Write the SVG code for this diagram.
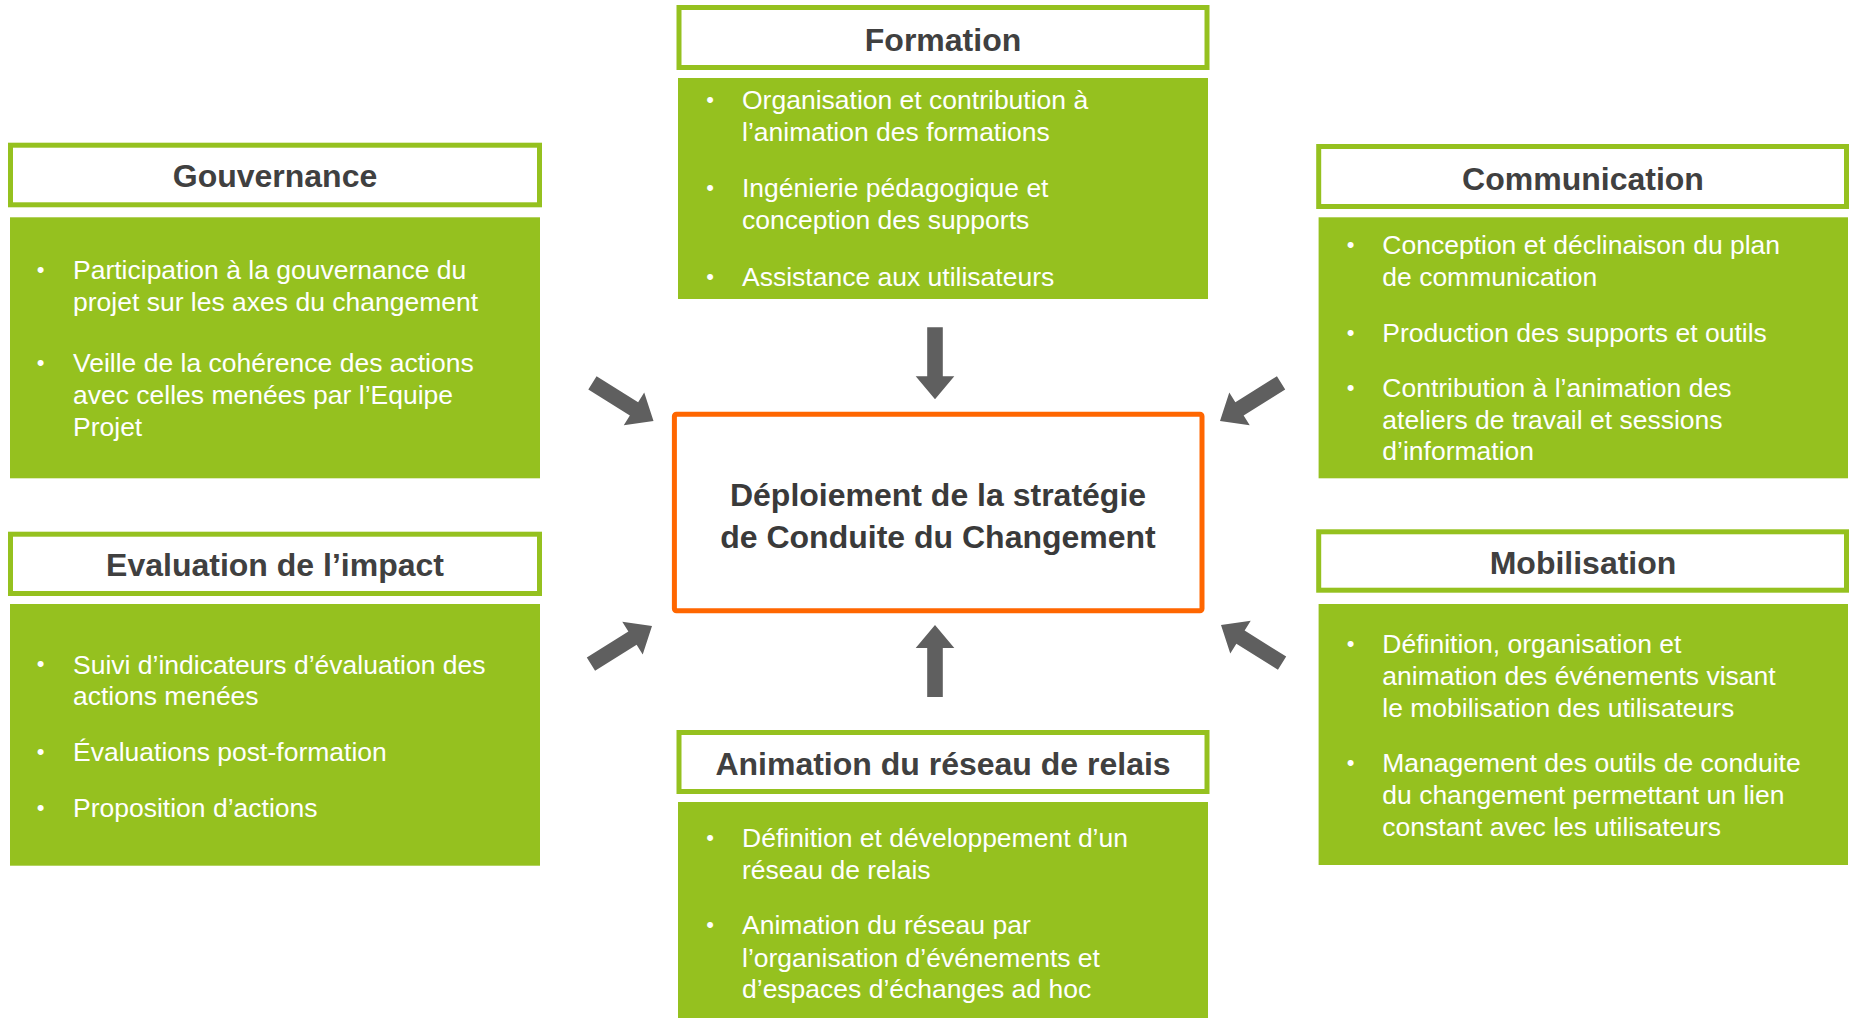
<svg xmlns="http://www.w3.org/2000/svg" width="1850" height="1018" viewBox="0 0 1850 1018">
<style>
.hdr{fill:#ffffff;stroke:#95c11f;stroke-width:5}
.body{fill:#95c11f}
.ttl{font-family:"Liberation Sans",Arial,sans-serif;font-weight:bold;font-size:32px;fill:#404040;text-anchor:middle}
.txt{font-family:"Liberation Sans",Arial,sans-serif;font-size:26.5px;fill:#ffffff}
.bul{font-family:"Liberation Sans",Arial,sans-serif;font-size:22px;fill:#ffffff;text-anchor:middle}
.ctr{fill:#ffffff;stroke:#ff6600;stroke-width:5}
.ctxt{font-family:"Liberation Sans",Arial,sans-serif;font-weight:bold;font-size:32px;fill:#3a3a3a;text-anchor:middle}
.arr{fill:#5f5f5f}
</style>
<defs>
<polygon id="arrow" points="-72,-7.8 -23,-7.8 -23,-19.3 0,0 -23,19.3 -23,7.8 -72,7.8"/>
</defs>
<rect width="1850" height="1018" fill="#ffffff"/>

<g id="formation">
<rect class="hdr" x="679" y="7.5" width="528" height="60"/>
<text class="ttl" x="943" y="50.5">Formation</text>
<rect class="body" x="678" y="78" width="530" height="221"/>
<text class="bul" x="710" y="106.5">•</text>
<text class="txt" x="742" y="108.8">Organisation et contribution à</text>
<text class="txt" x="742" y="140.5">l’animation des formations</text>
<text class="bul" x="710" y="195">•</text>
<text class="txt" x="742" y="197.2">Ingénierie pédagogique et</text>
<text class="txt" x="742" y="228.8">conception des supports</text>
<text class="bul" x="710" y="283.5">•</text>
<text class="txt" x="742" y="285.5">Assistance aux utilisateurs</text>
</g>

<g id="gouvernance">
<rect class="hdr" x="10.5" y="145.2" width="529" height="59.6"/>
<text class="ttl" x="275" y="187">Gouvernance</text>
<rect class="body" x="10" y="217.3" width="530" height="261"/>
<text class="bul" x="40.5" y="276.5">•</text>
<text class="txt" x="73" y="278.8">Participation à la gouvernance du</text>
<text class="txt" x="73" y="310.5">projet sur les axes du changement</text>
<text class="bul" x="40.5" y="370">•</text>
<text class="txt" x="73" y="372.2">Veille de la cohérence des actions</text>
<text class="txt" x="73" y="403.8">avec celles menées par l’Equipe</text>
<text class="txt" x="73" y="435.5">Projet</text>
</g>

<g id="communication">
<rect class="hdr" x="1318.7" y="146.5" width="527.8" height="60"/>
<text class="ttl" x="1583" y="189.5">Communication</text>
<rect class="body" x="1318.6" y="217.3" width="529.4" height="261"/>
<text class="bul" x="1350.6" y="252.3">•</text>
<text class="txt" x="1382.3" y="254.3">Conception et déclinaison du plan</text>
<text class="txt" x="1382.3" y="285.5">de communication</text>
<text class="bul" x="1350.6" y="340">•</text>
<text class="txt" x="1382.3" y="342">Production des supports et outils</text>
<text class="bul" x="1350.6" y="395">•</text>
<text class="txt" x="1382.3" y="397">Contribution à l’animation des</text>
<text class="txt" x="1382.3" y="428.7">ateliers de travail et sessions</text>
<text class="txt" x="1382.3" y="460.4">d’information</text>
</g>

<g id="evaluation">
<rect class="hdr" x="10.5" y="534.2" width="529" height="59.3"/>
<text class="ttl" x="275" y="575.5">Evaluation de l’impact</text>
<rect class="body" x="10" y="604" width="530" height="261.7"/>
<text class="bul" x="40.5" y="671.3">•</text>
<text class="txt" x="73" y="673.5">Suivi d’indicateurs d’évaluation des</text>
<text class="txt" x="73" y="705">actions menées</text>
<text class="bul" x="40.5" y="759">•</text>
<text class="txt" x="73" y="761">Évaluations post-formation</text>
<text class="bul" x="40.5" y="815">•</text>
<text class="txt" x="73" y="817">Proposition d’actions</text>
</g>

<g id="mobilisation">
<rect class="hdr" x="1318.7" y="531.8" width="527.8" height="58.4"/>
<text class="ttl" x="1583" y="573.5">Mobilisation</text>
<rect class="body" x="1318.6" y="604" width="529.4" height="261"/>
<text class="bul" x="1350.6" y="651">•</text>
<text class="txt" x="1382.3" y="653.2">Définition, organisation et</text>
<text class="txt" x="1382.3" y="684.8">animation des événements visant</text>
<text class="txt" x="1382.3" y="716.5">le mobilisation des utilisateurs</text>
<text class="bul" x="1350.6" y="770">•</text>
<text class="txt" x="1382.3" y="772.2">Management des outils de conduite</text>
<text class="txt" x="1382.3" y="803.8">du changement permettant un lien</text>
<text class="txt" x="1382.3" y="835.5">constant avec les utilisateurs</text>
</g>

<g id="animation">
<rect class="hdr" x="679" y="732.5" width="528" height="59"/>
<text class="ttl" x="943" y="774.5">Animation du réseau de relais</text>
<rect class="body" x="678" y="802" width="530" height="216"/>
<text class="bul" x="710" y="845">•</text>
<text class="txt" x="742" y="847.2">Définition et développement d’un</text>
<text class="txt" x="742" y="878.8">réseau de relais</text>
<text class="bul" x="710" y="931.5">•</text>
<text class="txt" x="742" y="933.8">Animation du réseau par</text>
<text class="txt" x="742" y="966.5">l’organisation d’événements et</text>
<text class="txt" x="742" y="998.2">d’espaces d’échanges ad hoc</text>
</g>

<g id="center">
<rect class="ctr" x="674.4" y="414.2" width="527.6" height="196.6" rx="2"/>
<text class="ctxt" x="938" y="505.5">Déploiement de la stratégie</text>
<text class="ctxt" x="938" y="547.5">de Conduite du Changement</text>
</g>

<g id="connectors" class="arr">
<use href="#arrow" transform="translate(935,399.3) rotate(90)"/>
<use href="#arrow" transform="translate(935,625) rotate(-90)"/>
<use href="#arrow" transform="translate(653.5,421) rotate(32)"/>
<use href="#arrow" transform="translate(1220,421) rotate(148)"/>
<use href="#arrow" transform="translate(652,626) rotate(-32)"/>
<use href="#arrow" transform="translate(1221,625) rotate(-148)"/>
</g>
</svg>
